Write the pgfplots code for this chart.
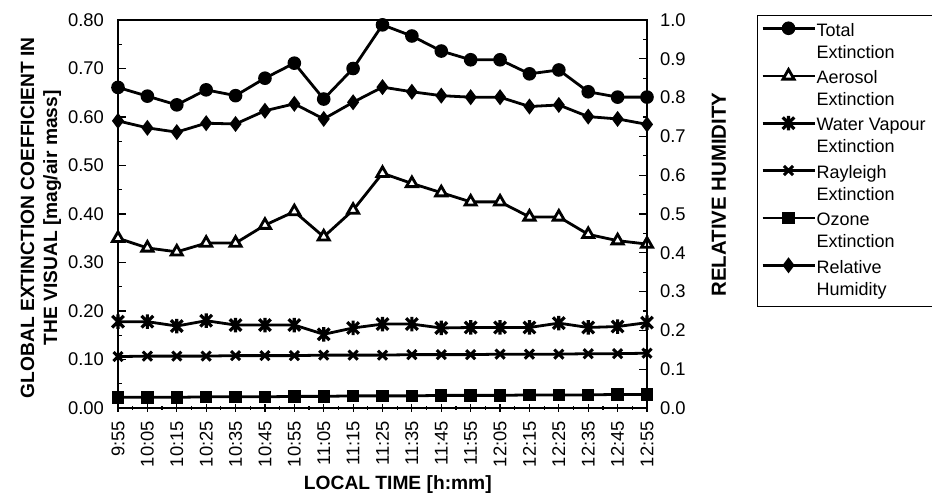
\documentclass[border=0pt]{standalone}
\usepackage{fontspec}
\setmainfont{Liberation Sans}
\usepackage{pgfplots}
\usepackage{pgfplotstable}
\pgfplotsset{compat=1.18}

% Cross with a vertical bar, used for the water vapour series
\pgfdeclareplotmark{xstar}{%
  \pgfpathmoveto{\pgfqpoint{-\pgfplotmarksize}{-\pgfplotmarksize}}%
  \pgfpathlineto{\pgfqpoint{\pgfplotmarksize}{\pgfplotmarksize}}%
  \pgfpathmoveto{\pgfqpoint{-\pgfplotmarksize}{\pgfplotmarksize}}%
  \pgfpathlineto{\pgfqpoint{\pgfplotmarksize}{-\pgfplotmarksize}}%
  \pgfpathmoveto{\pgfqpoint{0pt}{-1.25\pgfplotmarksize}}%
  \pgfpathlineto{\pgfqpoint{0pt}{1.25\pgfplotmarksize}}%
  \pgfusepathqstroke}

% t: slot index (9:55 ... 12:55, every 10 min)
\pgfplotstableread{
t  total  aer    wv     ray    oz     rh
0  0.661  0.350  0.178  0.106  0.022  0.740
1  0.643  0.330  0.178  0.107  0.022  0.722
2  0.625  0.322  0.169  0.107  0.022  0.711
3  0.656  0.340  0.180  0.107  0.023  0.734
4  0.644  0.340  0.171  0.108  0.023  0.732
5  0.680  0.377  0.171  0.108  0.023  0.766
6  0.711  0.405  0.171  0.108  0.024  0.784
7  0.637  0.353  0.152  0.109  0.024  0.745
8  0.700  0.408  0.165  0.109  0.025  0.788
9  0.790  0.484  0.173  0.109  0.025  0.827
10 0.767  0.463  0.173  0.110  0.025  0.815
11 0.736  0.444  0.165  0.110  0.026  0.805
12 0.718  0.425  0.166  0.110  0.026  0.801
13 0.718  0.425  0.166  0.111  0.026  0.801
14 0.689  0.394  0.166  0.111  0.027  0.777
15 0.697  0.394  0.175  0.111  0.027  0.781
16 0.652  0.358  0.166  0.112  0.027  0.751
17 0.641  0.345  0.168  0.112  0.028  0.745
18 0.641  0.338  0.176  0.113  0.028  0.731
}\extdata

\pgfplotsset{
  common/.style={
    at={(59bp,45bp)}, anchor=south west,
    scale only axis, width=264.5bp, height=194bp,
    xmin=0, xmax=18,
    axis line style={line width=0.6bp},
    every tick/.style={line width=0.6bp, black},
    major tick length=4bp, minor tick length=2bp,
    tick label style={font=\fontsize{9.2bp}{10bp}\selectfont},
    /pgf/number format/assume math mode=true,
    every axis label/.append style={font=\bfseries\fontsize{9.6bp}{11.5bp}\selectfont},
  },
  series/.style={black, line width=1.4bp, mark options={solid, line width=1bp}},
}

\begin{document}
\begin{tikzpicture}
\useasboundingbox (0,0) rectangle (466bp,249bp);

\begin{axis}[
  common,
  ymin=0, ymax=0.8,
  ytick={0,0.1,0.2,0.3,0.4,0.5,0.6,0.7,0.8},
  minor y tick num=1,
  xtick={0,...,18},
  minor x tick num=1,
  xticklabels={9:55,10:05,10:15,10:25,10:35,10:45,10:55,11:05,11:15,11:25,11:35,11:45,11:55,12:05,12:15,12:25,12:35,12:45,12:55},
  xtick pos=bottom, ytick pos=left,
  x tick style={/pgfplots/tick align=center},
  x tick label style={rotate=90, anchor=east},
  xticklabel shift=3bp,
  y tick label style={/pgf/number format/fixed, /pgf/number format/fixed zerofill, /pgf/number format/precision=2},
  yticklabel shift=3.5bp,
  xlabel={LOCAL TIME [h:mm]},
  xlabel style={at={(axis description cs:0.529,-0.196)}, anchor=center},
  ylabel={GLOBAL EXTINCTION COEFFICIENT IN\\THE VISUAL [mag/air mass]},
  ylabel style={align=center, at={(axis description cs:-0.1456,0.49)}, anchor=center, rotate=0},
  legend cell align=left,
  legend style={
    at={(axis description cs:1.208,1.013)}, anchor=north west,
    draw=black, line width=0.5bp,
    font=\fontsize{9bp}{11bp}\selectfont,
    align=left,
    nodes={inner xsep=1bp, inner ysep=2.4bp},
    row sep=0bp, inner xsep=2.5bp, inner ysep=1.5bp,
  },
  % the sample sits beside the first line of each two-line entry
  legend image code/.code={%
    \path[draw=none, fill=none] (0bp,0bp) -- (26bp,0bp);
    \draw[overlay, yshift=7bp, mark repeat=2, mark phase=2]
      plot coordinates {(0bp,0bp) (13bp,0bp) (26bp,0bp)};},
]
\addplot[series, mark=*, mark size=2.9bp] table[x=t, y=total] {\extdata};
\addlegendentry{Total\\Extinction}
\addplot[series, mark=triangle*, mark size=3.2bp, mark options={fill=white}] table[x=t, y=aer] {\extdata};
\addlegendentry{Aerosol\\Extinction}
\addplot[series, mark=xstar, mark size=2.9bp, mark options={line width=1.6bp}] table[x=t, y=wv] {\extdata};
\addlegendentry{Water Vapour\\Extinction}
\addplot[series, mark=x, mark size=3.2bp, mark options={line width=1.5bp}] table[x=t, y=ray] {\extdata};
\addlegendentry{Rayleigh\\Extinction}
\addplot[series, mark=square*, mark size=2.6bp] table[x=t, y=oz] {\extdata};
\addlegendentry{Ozone\\Extinction}
\addlegendimage{series, mark=diamond*, mark size=3.2bp}
\addlegendentry{Relative\\Humidity}
\end{axis}

\begin{axis}[
  common,
  ymin=0, ymax=1,
  axis y line*=right, axis x line=none,
  ytick={0,0.1,0.2,0.3,0.4,0.5,0.6,0.7,0.8,0.9,1.0},
  minor y tick num=1,
  y tick label style={/pgf/number format/fixed, /pgf/number format/fixed zerofill, /pgf/number format/precision=1},
  yticklabel shift=3bp,
  ylabel={RELATIVE HUMIDITY},
  ylabel style={at={(axis description cs:1.136,0.55)}, anchor=center, font=\bfseries\fontsize{10.2bp}{12bp}\selectfont},
]
\addplot[series, mark=diamond*, mark size=3.2bp] table[x=t, y=rh] {\extdata};
\end{axis}
\end{tikzpicture}
\end{document}
